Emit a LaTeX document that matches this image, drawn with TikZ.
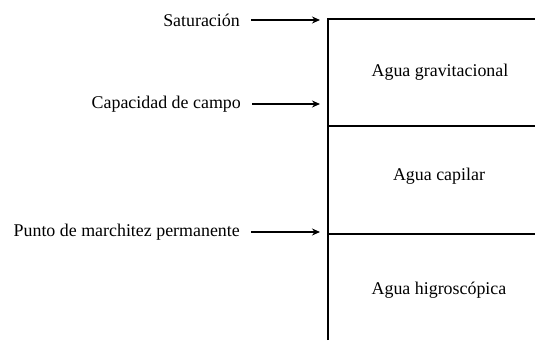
\documentclass[tikz,border=0pt]{standalone}
\usepackage{fontspec}
\setmainfont{Liberation Serif}
\usetikzlibrary{arrows.meta}
\usetikzlibrary{positioning}
\tikzset{etiq/.style = {anchor = east, inner sep = 0, font = \fontsize{17.9}{20}\selectfont}}
\tikzset{zona/.style = {inner sep = 0, font = \fontsize{17.9}{20}\selectfont}}
\tikzset{flecha/.style = {-{Stealth[length = 8pt, width = 7pt]}, line width = 2.1pt, shorten <= 11pt}}

\begin{document}
\begin{tikzpicture}[x = 1pt, y = -1pt]
    \useasboundingbox (0, 0) rectangle (535, 340);

    % perfil del suelo
    \draw [line width = 2.2pt] (328, 340) -- (328, 19) -- (535, 19);
    \draw [line width = 2.2pt] (328, 126) -- (535, 126);
    \draw [line width = 2.2pt] (328, 234) -- (535, 234);

    \node [zona] (grav) at (440, 72) {Agua gravitacional};
    \node [zona] (cap) at (439, 176) {Agua capilar};
    \node [zona] (higr) at (439, 290) {Agua higroscópica};

    % niveles
    \node [etiq] (sat) at (240, 20) {Saturación};
    \node [etiq] (campo) at (241, 104) {Capacidad de campo};
    \node [etiq] (pmp) at (240, 232) {Punto de marchitez permanente};

    \coordinate (satp) at (320, 20);
    \coordinate (campop) at (320, 104);
    \coordinate (pmpp) at (320, 232);

    \draw [flecha] (sat.east) -- (satp);
    \draw [flecha] (campo.east) -- (campop);
    \draw [flecha] (pmp.east) -- (pmpp);
\end{tikzpicture}
\end{document}
